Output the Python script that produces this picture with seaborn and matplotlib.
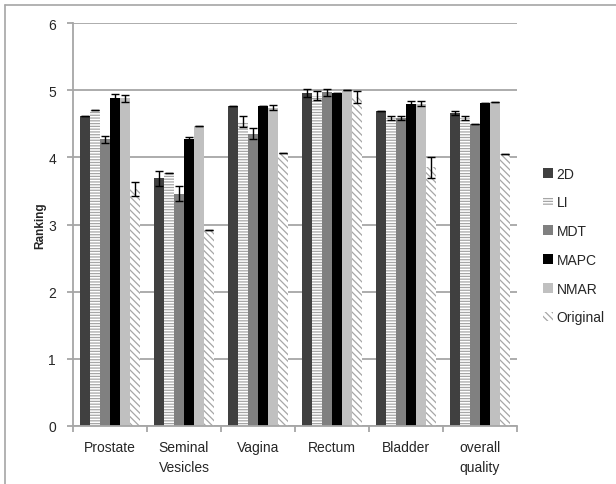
import matplotlib
matplotlib.use("Agg")
import matplotlib.pyplot as plt
from matplotlib.patches import Patch
from matplotlib.lines import Line2D
import numpy as np
import pandas as pd
import seaborn as sns

# Structures and reconstruction methods
structures = ["Prostate", "Seminal\nVesicles", "Vagina", "Rectum", "Bladder", "overall\nquality"]
methods = ["2D", "LI", "MDT", "MAPC", "NMAR", "Original"]

# Mean ranking per method (one value per structure)
rank_2d       = [4.62, 3.69, 4.77, 4.96, 4.69, 4.66]
rank_li       = [4.70, 3.76, 4.53, 4.92, 4.58, 4.58]
rank_mdt      = [4.27, 3.46, 4.35, 4.97, 4.58, 4.49]
rank_mapc     = [4.89, 4.27, 4.77, 4.96, 4.80, 4.81]
rank_nmar     = [4.88, 4.47, 4.74, 5.00, 4.80, 4.82]
rank_original = [3.53, 2.92, 4.06, 4.90, 3.85, 4.05]

# Standard errors
err_2d       = [0.00, 0.11, 0.00, 0.06, 0.00, 0.03]
err_li       = [0.00, 0.00, 0.08, 0.07, 0.03, 0.03]
err_mdt      = [0.05, 0.11, 0.08, 0.05, 0.03, 0.00]
err_mapc     = [0.05, 0.04, 0.00, 0.00, 0.04, 0.00]
err_nmar     = [0.05, 0.00, 0.04, 0.00, 0.04, 0.00]
err_original = [0.11, 0.00, 0.00, 0.09, 0.16, 0.00]

ranks = [rank_2d, rank_li, rank_mdt, rank_mapc, rank_nmar, rank_original]
errs = [err_2d, err_li, err_mdt, err_mapc, err_nmar, err_original]

df = pd.DataFrame({
    "structure": np.repeat([structures], len(methods), axis=0).ravel(),
    "method": np.repeat(methods, len(structures)),
    "ranking": np.concatenate(ranks),
})

face = {"2D": "#404040", "LI": "#ffffff", "MDT": "#808080",
        "MAPC": "#000000", "NMAR": "#c0c0c0", "Original": "#ffffff"}
hatch = {"LI": "------", "Original": "\\\\\\\\\\"}
hatch_col = "#a6a6a6"

sns.set_style("white")
plt.rcParams["font.family"] = ["Liberation Sans", "DejaVu Sans"]
plt.rcParams["hatch.linewidth"] = 0.9

fig = plt.figure(figsize=(6.16, 4.85), dpi=100)
ax = fig.add_axes([73 / 616, 1 - 427 / 485, 444 / 616, 403 / 485])

sns.barplot(data=df, x="structure", y="ranking", hue="method",
            order=structures, hue_order=methods, palette=face,
            errorbar=None, width=0.8, saturation=1, legend=False,
            linewidth=0, ax=ax)

for m, cont, e in zip(methods, ax.containers, errs):
    xs, ys = [], []
    for bar in cont:
        bar.set_linewidth(0)
        if m in hatch:
            bar.set_hatch(hatch[m])
            bar.set_edgecolor(hatch_col)
        xs.append(bar.get_x() + bar.get_width() / 2)
        ys.append(bar.get_height())
    ax.errorbar(xs, ys, yerr=e, fmt="none", ecolor="black",
                elinewidth=1.0, capsize=3, capthick=1.0, zorder=5)

ax.set_ylim(0, 6)
ax.set_xlim(-0.5, len(structures) - 0.5)
ax.set_yticks(range(0, 7))
ax.yaxis.grid(True, color="#a6a6a6", linewidth=1.3)
ax.set_axisbelow(True)

for s in ["top", "right"]:
    ax.spines[s].set_visible(False)
for s in ["left", "bottom"]:
    ax.spines[s].set_color("#a6a6a6")
    ax.spines[s].set_linewidth(1.3)

ax.tick_params(axis="y", length=4.3, width=1.3, color="#a6a6a6",
               labelsize=10, labelcolor="#262626", pad=8, left=True)
ax.set_xticks(np.arange(len(structures)))
ax.set_xticklabels(structures, fontsize=10, color="#262626", linespacing=1.6)
ax.tick_params(axis="x", length=0, pad=10)
ax.set_xticks(np.arange(-0.5, len(structures)), minor=True)
ax.tick_params(axis="x", which="minor", length=4.3, width=1.3,
               color="#a6a6a6", bottom=True)

ax.set_xlabel("")
ax.set_ylabel("Ranking", fontsize=8.5, fontweight="bold", labelpad=1)

handles = []
for m in methods:
    handles.append(Patch(facecolor=face[m], edgecolor=hatch_col if m in hatch else face[m],
                         hatch=hatch.get(m), linewidth=0, label=m))
ax.legend(handles=handles, loc="center left", bbox_to_anchor=(1.03, 0.448),
          frameon=False, handlelength=0.7, handleheight=0.7, handletextpad=0.3,
          labelspacing=1.06, fontsize=10, labelcolor="#262626")

# Outer frame lines
fig.add_artist(Line2D([5 / 616, 5 / 616], [0, 1 - 6 / 485], color="#a6a6a6",
                      linewidth=1.2, transform=fig.transFigure))
fig.add_artist(Line2D([5 / 616, 1], [1 - 6 / 485, 1 - 6 / 485], color="#a6a6a6",
                      linewidth=1.2, transform=fig.transFigure))

fig.savefig("out.png", dpi=100, facecolor="white")
